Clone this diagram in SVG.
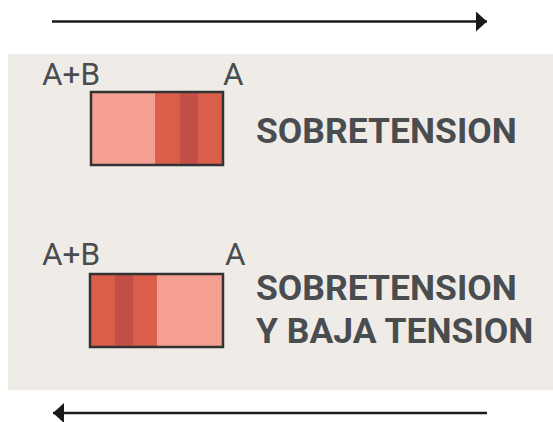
<svg xmlns="http://www.w3.org/2000/svg" width="553" height="422" viewBox="0 0 553 422">
<style>
.lbl{font-family:Roboto,"Liberation Sans",sans-serif;font-size:31.5px;fill:#4a4d50}
.ttl{font-family:Roboto,"Liberation Sans",sans-serif;font-size:35.5px;font-weight:bold;fill:#4a4d50}
.light{fill:#f59e92}.mid{fill:#da5e4a}.dark{fill:#c34f48}
.frame{fill:none;stroke:#333;stroke-width:2.5}
.arrow{stroke:#1a1a1a;stroke-width:2.5;fill:none}
</style>
<defs>
<marker id="ah" markerWidth="12" markerHeight="20" refX="11" refY="10" orient="auto" markerUnits="userSpaceOnUse">
<path d="M0,0 L11,10 L0,20 Z" fill="#1a1a1a"/>
</marker>
</defs>
<rect x="8" y="54" width="545" height="336" fill="#efece7"/>
<g id="connectors">
<line class="arrow" x1="52" y1="21.5" x2="487" y2="21.5" marker-end="url(#ah)"/>
<line class="arrow" x1="487" y1="413" x2="53" y2="413" marker-end="url(#ah)"/>
</g>
<g id="node1">
<text class="lbl" x="42" y="85">A+B</text>
<text class="lbl" x="223" y="85">A</text>
<rect class="light" x="91" y="92" width="65" height="73"/>
<rect class="mid" x="155" y="92" width="68" height="73"/>
<rect class="dark" x="180" y="92" width="18" height="73"/>
<rect class="frame" x="91" y="92" width="132" height="73"/>
<text class="ttl" x="256" y="143">SOBRETENSION</text>
</g>
<g id="node2">
<text class="lbl" x="42" y="265">A+B</text>
<text class="lbl" x="225" y="265">A</text>
<rect class="mid" x="90" y="274" width="67" height="73"/>
<rect class="dark" x="115" y="274" width="18" height="73"/>
<rect class="light" x="157" y="274" width="66" height="73"/>
<rect class="frame" x="90" y="274" width="133" height="73"/>
<text class="ttl" x="256" y="300">SOBRETENSION</text>
<text class="ttl" x="256" y="343">Y BAJA TENSION</text>
</g>
</svg>
